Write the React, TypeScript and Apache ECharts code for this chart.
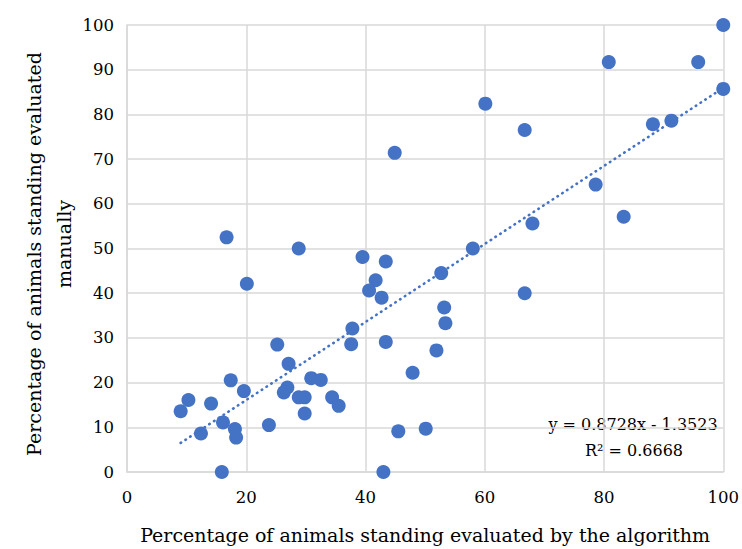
import React, { useEffect, useRef } from "react";
import * as echarts from "echarts";

const xValues = [
  100, 95.8, 80.8, 100, 91.3, 88.2, 60.1, 66.7, 78.6, 83.3,
  68.0, 58.0, 52.7, 44.9, 66.7, 39.5, 43.4, 41.7, 40.6, 42.7,
  53.2, 53.4, 37.8, 37.6, 43.4, 51.9, 47.9, 30.9, 32.5, 28.8,
  29.8, 34.4, 35.5, 29.8, 45.5, 50.1, 43.0, 28.8, 16.7, 20.1,
  25.2, 27.1, 17.4, 19.6, 26.9, 26.3, 10.3, 9.0, 14.1, 16.1,
  12.4, 18.1, 18.3, 23.8, 15.9,
];
const yValues = [
  100, 91.7, 91.7, 85.7, 78.6, 77.8, 82.4, 76.5, 64.3, 57.1,
  55.6, 50.0, 44.5, 71.4, 40.0, 48.1, 47.1, 42.9, 40.6, 39.0,
  36.8, 33.3, 32.1, 28.6, 29.1, 27.2, 22.2, 21.0, 20.6, 16.7,
  16.7, 16.7, 14.8, 13.1, 9.1, 9.7, 0, 50.0, 52.5, 42.1,
  28.5, 24.2, 20.5, 18.1, 18.9, 17.8, 16.1, 13.6, 15.3, 11.1,
  8.6, 9.6, 7.7, 10.5, 0,
];
const slope = 0.8728;
const intercept = -1.3523;
const rSquared = 0.6668;
const axisTicks = [0, 20, 40, 60, 80, 100];
const xTitle = "Percentage of animals standing evaluated by the algorithm";
const yTitleLines = ["Percentage of animals standing evaluated", "manually"];

const FONT = "DejaVu Serif";
const BLUE = "#4472C4";

export default function App() {
  const ref = useRef<HTMLDivElement>(null);
  useEffect(() => {
    if (!ref.current) return;
    const chart = echarts.init(ref.current, undefined, { renderer: "svg" });
    const points = xValues.map((x, i) => [x, yValues[i]]);
    const xMin = Math.min(...xValues);
    const xMax = Math.max(...xValues);
    const trend = [
      [xMin, slope * xMin + intercept],
      [xMax, slope * xMax + intercept],
    ];
    const titleStyle = {
      fontFamily: FONT,
      fontSize: 19,
      fill: "#000",
      align: "center",
      verticalAlign: "middle",
    };
    chart.setOption({
      animation: false,
      backgroundColor: "#ffffff",
      grid: { left: 127, right: 15, top: 25, bottom: 76 },
      xAxis: {
        type: "value",
        min: axisTicks[0],
        max: axisTicks[axisTicks.length - 1],
        interval: 20,
        name: xTitle,
        nameLocation: "middle",
        nameGap: 53,
        nameTextStyle: { fontFamily: FONT, fontSize: 19, color: "#000" },
        axisLine: { lineStyle: { color: "#d9d9d9", width: 1.5 } },
        axisTick: { show: false },
        axisLabel: { fontFamily: FONT, fontSize: 16.5, color: "#000", margin: 17 },
        splitLine: { lineStyle: { color: "#d9d9d9", width: 1.5 } },
      },
      yAxis: {
        type: "value",
        min: 0,
        max: 100,
        interval: 10,
        axisLine: { show: true, lineStyle: { color: "#d9d9d9", width: 1.5 } },
        axisTick: { show: false },
        axisLabel: { fontFamily: FONT, fontSize: 16.5, color: "#000", margin: 13 },
        splitLine: { lineStyle: { color: "#d9d9d9", width: 1.5 } },
      },
      series: [
        {
          type: "scatter",
          data: points,
          symbolSize: 14,
          itemStyle: { color: BLUE, opacity: 1 },
          z: 2,
        },
        {
          type: "line",
          data: trend,
          symbol: "none",
          lineStyle: { color: BLUE, width: 2.6, type: [0.5, 5.2], cap: "round" },
          z: 3,
        },
      ],
      graphic: [
        {
          type: "text",
          x: 34,
          y: 254,
          rotation: Math.PI / 2,
          style: { ...titleStyle, text: yTitleLines[0] },
        },
        {
          type: "text",
          x: 64,
          y: 244,
          rotation: Math.PI / 2,
          style: { ...titleStyle, text: yTitleLines[1] },
        },
        {
          type: "text",
          x: 633,
          y: 424,
          style: {
            text: `y = ${slope}x - ${Math.abs(intercept)}`,
            fontFamily: FONT,
            fontSize: 16,
            fill: "#000",
            align: "center",
            verticalAlign: "middle",
          },
        },
        {
          type: "text",
          x: 634,
          y: 450,
          style: {
            text: `R² = ${rSquared}`,
            fontFamily: FONT,
            fontSize: 16,
            fill: "#000",
            align: "center",
            verticalAlign: "middle",
          },
        },
      ],
    });
    return () => chart.dispose();
  }, []);
  return (
    <div
      ref={ref}
      style={{ position: "fixed", left: 0, top: 0, width: 742, height: 549 }}
    />
  );
}
